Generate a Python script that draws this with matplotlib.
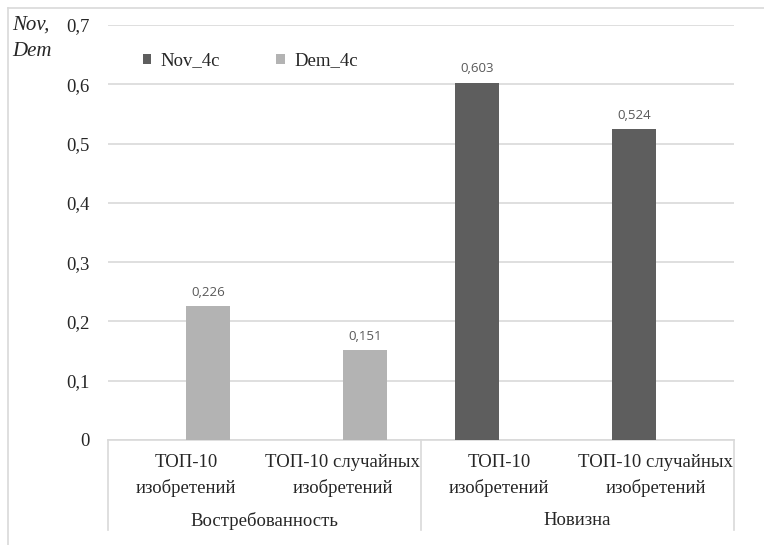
import numpy as np
import matplotlib.pyplot as plt
from matplotlib.lines import Line2D

groups = ["Востребованность", "Новизна"]
categories = ["ТОП-10\nизобретений", "ТОП-10 случайных\nизобретений",
              "ТОП-10\nизобретений", "ТОП-10 случайных\nизобретений"]
nov_4c = [0, 0, 0.603, 0.524]
dem_4c = [0.226, 0.151, 0, 0]
y_ticks = [0, 0.1, 0.2, 0.3, 0.4, 0.5, 0.6, 0.7]

DARK = "#5e5e5e"
LIGHT = "#b3b3b3"
GRID = "#d9d9d9"
TEXT = "#262626"

plt.rcParams["font.family"] = ["Liberation Serif", "DejaVu Serif"]

fig = plt.figure(figsize=(7.64, 5.45), dpi=100)
ax = fig.add_axes([108 / 764, 1 - 440 / 545, (734 - 108) / 764, (440 - 25) / 545])

x = np.arange(len(categories))
width = 0.28
for vals, color, name, off in [(nov_4c, DARK, "Nov_4c", -width / 2),
                               (dem_4c, LIGHT, "Dem_4c", width / 2)]:
    bars = ax.bar(x + off, vals, width, color=color, label=name, zorder=3)
    for b, v in zip(bars, vals):
        if v > 0:
            ax.text(b.get_x() + b.get_width() / 2, v + 0.012, f"{v:.3f}".replace(".", ","),
                    ha="center", va="bottom", fontsize=9.5, color="#595959",
                    family=["Open Sans", "DejaVu Sans"])

ax.set_xlim(-0.5, len(categories) - 0.5)
ax.set_ylim(0, 0.7)
ax.set_yticks(y_ticks)
ax.set_yticklabels([("%g" % t).replace(".", ",") for t in y_ticks], fontsize=13.5, color=TEXT)
ax.tick_params(axis="y", length=0, pad=13)
ax.set_xticks([])
ax.grid(axis="y", color=GRID, linewidth=1.2, zorder=0)
for s in ["top", "right", "left"]:
    ax.spines[s].set_visible(False)
ax.spines["bottom"].set_color(GRID)
ax.spines["bottom"].set_linewidth(1.2)

# two-level category axis
tr = ax.get_xaxis_transform()
for xi, lab in zip(x, categories):
    ax.text(xi, -0.033, lab, transform=tr, ha="center", va="top", fontsize=13.5,
            color=TEXT, linespacing=1.62)
for gi, g in enumerate(groups):
    ax.text(2 * gi + 0.5, -0.195, g, transform=tr, ha="center", va="center",
            fontsize=13.5, color=TEXT)
for xs in [-0.5, 1.5, 3.5]:
    ax.add_line(Line2D([xs, xs], [0, -0.217], transform=tr, color=GRID,
                       linewidth=1.2, clip_on=False))

fig.text(12 / 764, 1 - 25 / 545, "Nov,", fontsize=15, style="italic", color=TEXT, va="center")
fig.text(12 / 764, 1 - 52 / 545, "Dem", fontsize=15, style="italic", color=TEXT, va="center")

ax.legend(loc="center left", bbox_to_anchor=(126 / 764, 1 - 61 / 545),
          bbox_transform=fig.transFigure, ncol=2, frameon=False, fontsize=13.5,
          handlelength=0.45, handleheight=0.45, handletextpad=0.5, columnspacing=3.0,
          labelcolor=TEXT)

# chart frame
fig.add_artist(Line2D([8 / 764, 1], [1 - 8 / 545] * 2, color=GRID, linewidth=1.2))
fig.add_artist(Line2D([8 / 764] * 2, [0, 1 - 8 / 545], color=GRID, linewidth=1.2))

fig.savefig("out.png", dpi=100)
